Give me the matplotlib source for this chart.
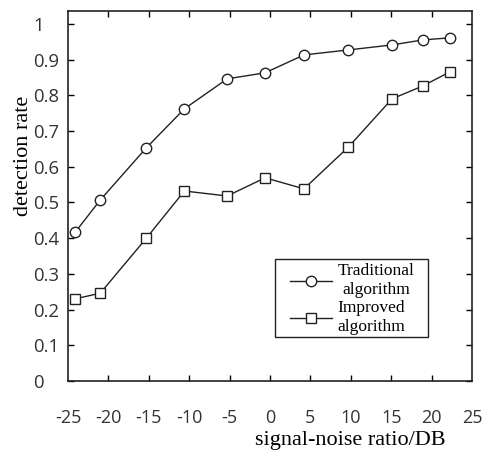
import numpy as np
import matplotlib
matplotlib.use("Agg")
import matplotlib.pyplot as plt
from matplotlib.patches import Rectangle

# signal-noise ratio values
snr = [-24.1, -21.0, -15.3, -10.6, -5.3, -0.6, 4.2, 9.7, 15.1, 18.9, 22.3]
traditional = [0.417, 0.507, 0.653, 0.762, 0.846, 0.863, 0.913, 0.927, 0.941, 0.955, 0.961]
improved = [0.230, 0.246, 0.400, 0.532, 0.518, 0.569, 0.538, 0.655, 0.790, 0.826, 0.866]

xticks = [-25, -20, -15, -10, -5, 0, 5, 10, 15, 20, 25]
yticks = [0, 0.1, 0.2, 0.3, 0.4, 0.5, 0.6, 0.7, 0.8, 0.9, 1]
ylabels = ['0', '0.1', '0.2', '0.3', '0.4', '0.5', '0.6', '0.7', '0.8', '0.9', '1']

plt.rcParams['axes.unicode_minus'] = False
serif = 'Liberation Serif'
sans = 'Open Sans'

fig = plt.figure(figsize=(4.82, 4.55), dpi=100)
ax = fig.add_axes([68/482, 1 - 381/455, (472-68)/482, (381-11)/455])
W, H = 404, 370  # axes size in pixels

ax.plot(snr, traditional, color='#222222', lw=1.0, marker='o', ms=7.5,
        mfc='white', mec='#222222', mew=1.0, label='Traditional\nalgorithm')
ax.plot(snr, improved, color='#222222', lw=1.0, marker='s', ms=7.5,
        mfc='white', mec='#222222', mew=1.0, label='Improved\nalgorithm')

ax.set_xlim(-25, 25)
ax.set_ylim(0, 1.036)

# x ticks only inside, labels placed below with a wide gap
ax.set_xticks(xticks[1:-1])
ax.set_xticklabels([])
for v in xticks:
    ax.text(v, -37/H, str(v), ha='center', va='center', fontsize=13,
            color='#333333', family=sans, transform=ax.get_xaxis_transform())

ax.set_yticks(yticks, ylabels)
for t in ax.get_yticklabels():
    t.set_ha('left')
    t.set_fontsize(13.3)
    t.set_family(sans)
    t.set_color('#333333')

ax.tick_params(axis='both', direction='in', length=4, width=1, top=True, right=True)
ax.tick_params(axis='y', pad=25)

for s in ax.spines.values():
    s.set_linewidth(1.2)
    s.set_color('#222222')

ax.set_ylabel('detection rate', fontsize=16, family=serif)
ax.yaxis.set_label_coords(-44/W, (381-156)/H)
ax.yaxis.label.set_va('center')
ax.set_xlabel('signal-noise ratio/DB', fontsize=16, family=serif)
ax.xaxis.set_label_coords((350-68)/W, -(440-381)/H)
ax.xaxis.label.set_va('center')

# legend without its own frame, box drawn separately (wider side padding)
leg = ax.legend(loc='upper left', bbox_to_anchor=((290-68)/W, 1 - (263-11)/H),
                prop={'family': serif, 'size': 12.5}, frameon=False,
                handlelength=2.4, labelspacing=0.1, borderpad=0,
                handletextpad=0.35, borderaxespad=0)
for t in leg.get_texts():
    t.set_multialignment('center')
    t.set_linespacing(1.28)
ax.add_patch(Rectangle(((275-68)/W, 1 - (337-11)/H), 153/W, 78/H,
                       transform=ax.transAxes, fill=False,
                       edgecolor='#222222', lw=1.0, zorder=5))

fig.savefig('out.png', dpi=100)
